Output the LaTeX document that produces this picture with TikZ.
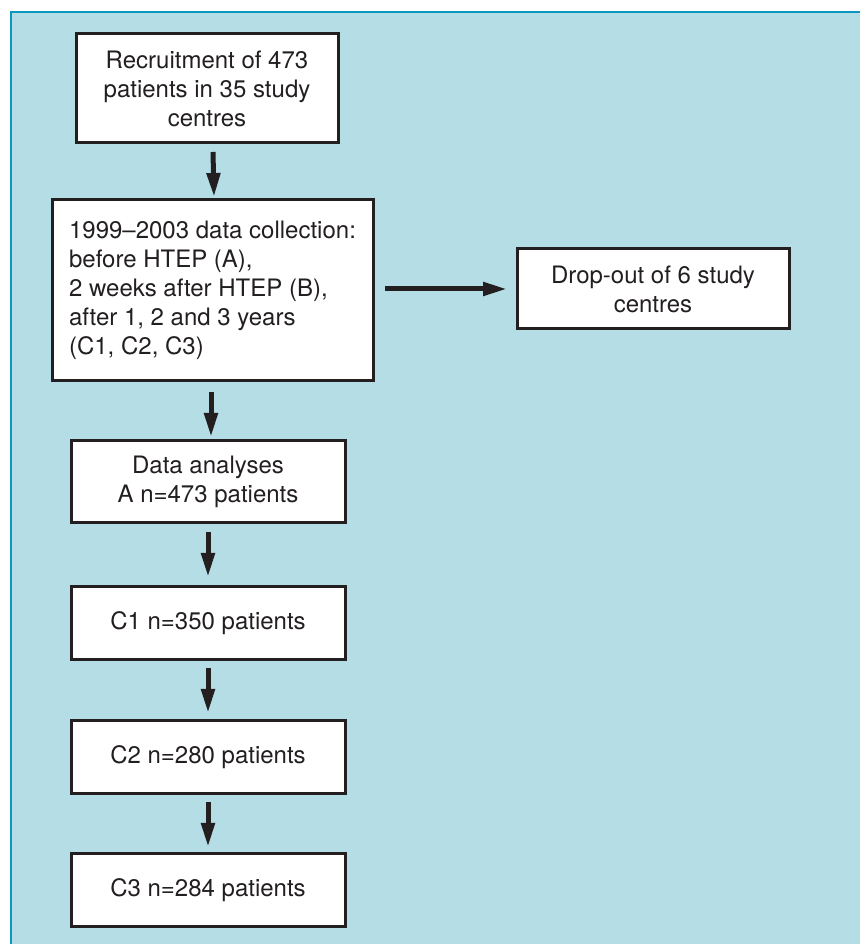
\documentclass[tikz,border=0pt]{standalone}
\usepackage{fontspec}
\setmainfont{TeX Gyre Heros}
\usetikzlibrary{arrows.meta}
\definecolor{bgblue}{HTML}{B5DDE6}
\definecolor{frameteal}{HTML}{0E97BE}
\definecolor{ink}{HTML}{231F20}
\begin{document}
\begin{tikzpicture}[x=1pt,y=1pt,
  box/.style={draw=ink, line width=3pt, fill=white, text=ink, inner sep=0pt, outer sep=0pt,
    align=center, font=\fontsize{24}{29}\selectfont},
  arr/.style={draw=ink, line width=5pt, -{Triangle[length=24pt,width=13pt]}}]
\useasboundingbox (0,0) rectangle (860,944);
\fill[white] (0,0) rectangle (860,944);
\fill[bgblue] (11,0) rectangle (860,932);
\draw[frameteal, line width=2.5pt] (11,0) -- (11,932) -- (860,932);

\node[box, minimum width=262pt, minimum height=109pt] (rec) at (207,855.5)
  {Recruitment of 473\\patients in 35 study\\centres};
\node[box, align=left, minimum width=321pt, minimum height=181pt] (coll) at (212.5,653.5)
  {1999--2003 data collection:\\before HTEP (A),\\2 weeks after HTEP (B),\\after 1, 2 and 3 years\\(C1, C2, C3)};
\node[box, minimum width=272pt, minimum height=80pt] (drop) at (653,655)
  {Drop-out of 6 study\\centres};
\node[box, minimum width=274pt, minimum height=82pt] (ana) at (208,462)
  {Data analyses\\A n=473 patients};
\node[box, minimum width=274pt, minimum height=73pt] (c1) at (208,320.5) {C1 n=350 patients};
\node[box, minimum width=274pt, minimum height=73pt] (c2) at (208,186.5) {C2 n=280 patients};
\node[box, minimum width=274pt, minimum height=73pt] (c3) at (208,53.5) {C3 n=284 patients};

\draw[arr] ([xshift=6pt,yshift=-9pt]rec.south) -- ([xshift=1.5pt,yshift=3pt]coll.north);
\draw[arr] ([xshift=-1.5pt,yshift=-11pt]coll.south) -- ([xshift=3pt,yshift=4pt]ana.north);
\draw[arr] ([xshift=12pt,yshift=1.5pt]coll.east) -- ([xshift=-10pt]drop.west);
\draw[arr] ([yshift=-9pt]ana.south) -- ([yshift=10pt]c1.north);
\draw[arr] ([yshift=-8pt]c1.south) -- ([yshift=8pt]c2.north);
\draw[arr] ([yshift=-8pt]c2.south) -- ([yshift=7pt]c3.north);
\end{tikzpicture}
\end{document}
